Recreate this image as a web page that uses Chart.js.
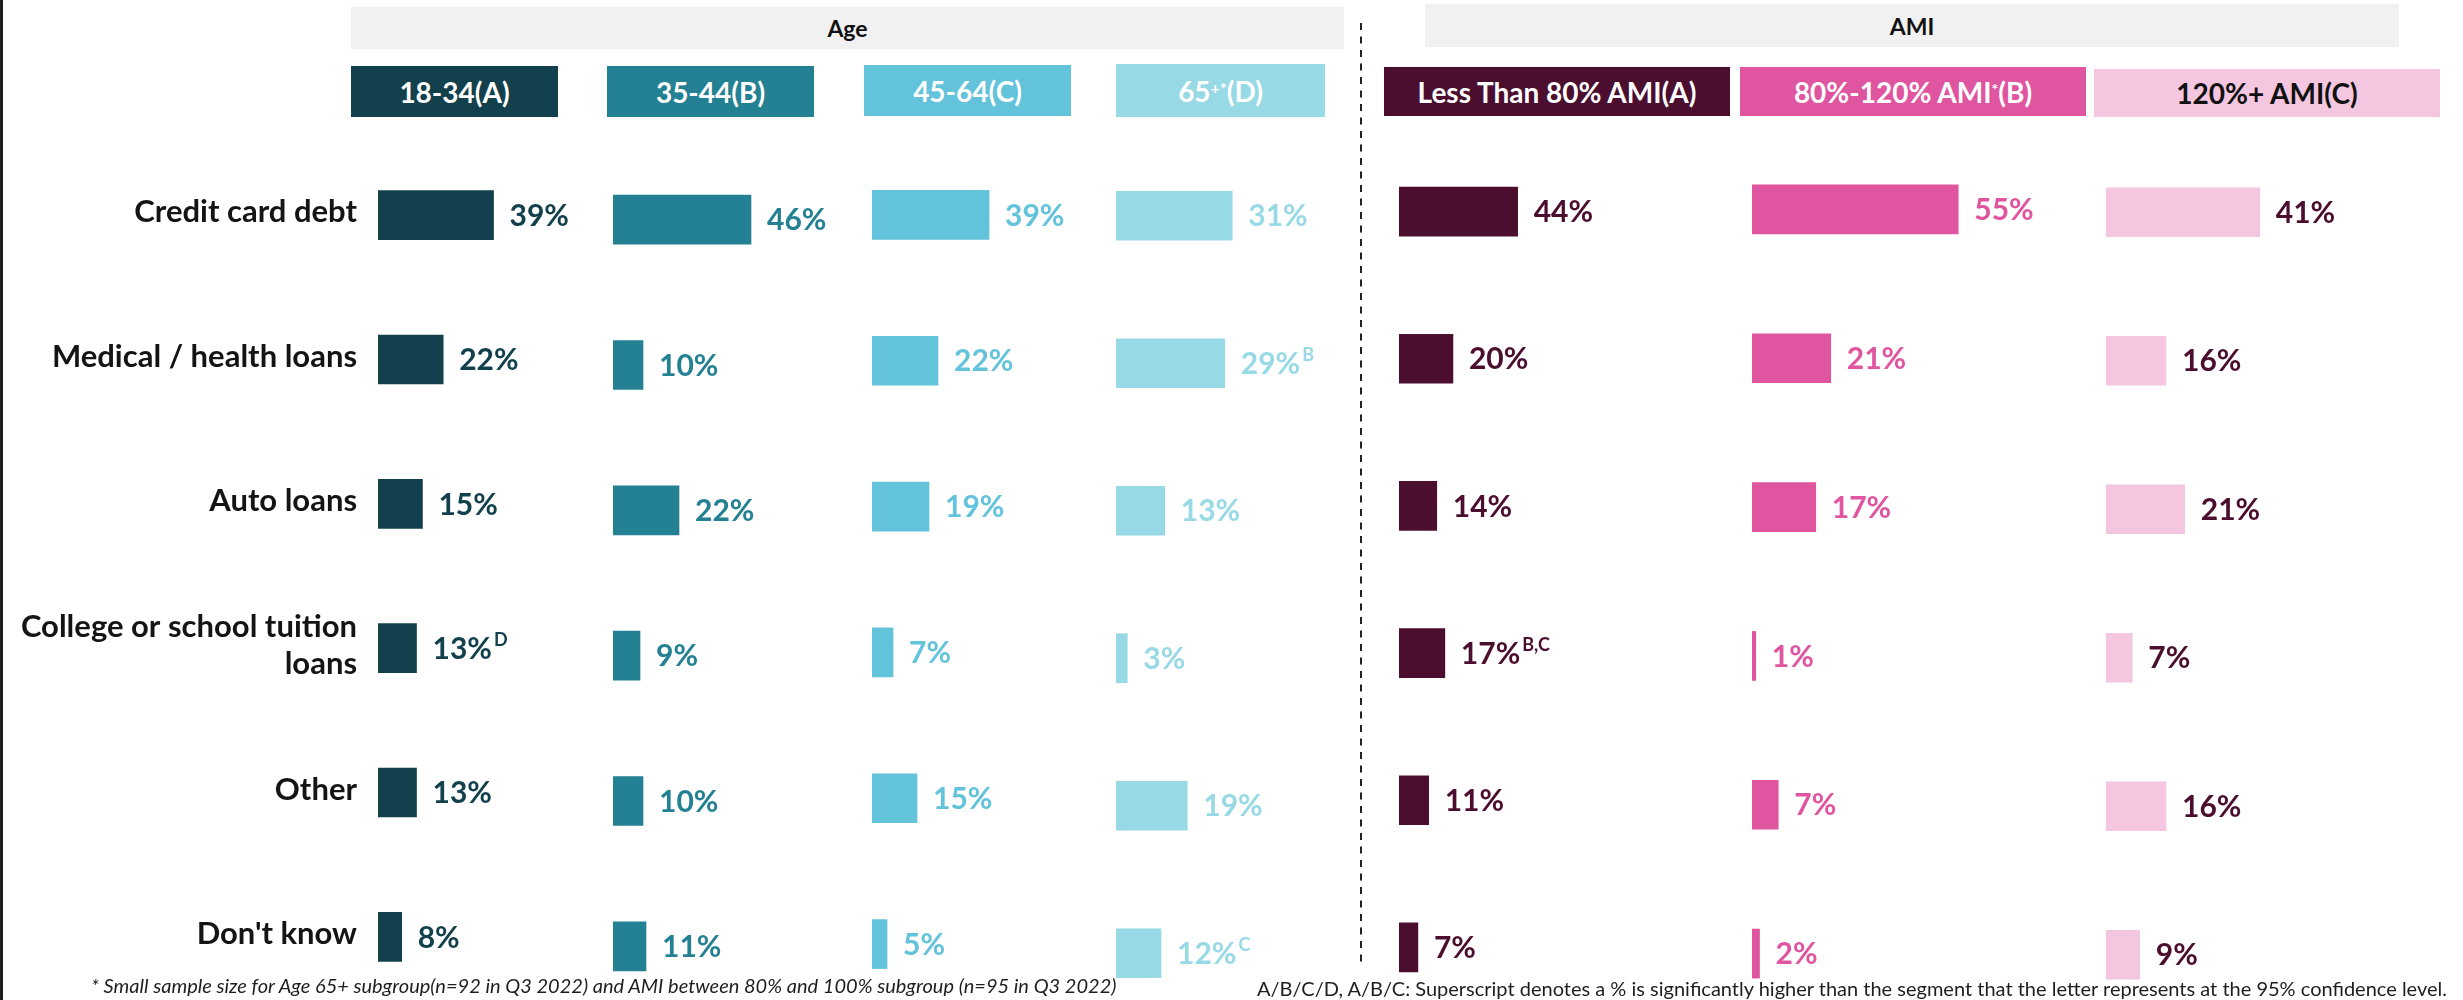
<!DOCTYPE html>
<html>
<head>
<meta charset="utf-8">
<script src="https://cdn.jsdelivr.net/npm/chart.js@4.4.1/dist/chart.umd.min.js"></script>
<style>
  html, body { margin: 0; padding: 0; background: #fff; }
  body { width: 2463px; height: 1000px; position: relative; overflow: hidden; font-family: Lato, "Open Sans", sans-serif; }
  .edge { position: absolute; left: 0; top: 0; width: 3px; height: 1000px; background: #1b1b1b; }
  .group { position: absolute; background: #f1f1f1; color: #111; font-weight: 700; font-size: 23px;
           display: flex; align-items: center; justify-content: center; }
  .head { position: absolute; display: flex; align-items: center; justify-content: center;
          font-weight: 700; font-size: 28px; color: #fff; white-space: nowrap; }
  .head sup { font-size: 16px; line-height: 0; position: relative; top: -3px; }
  canvas { position: absolute; }
  .note { position: absolute; font-size: 20px; color: #1e1e1e; white-space: nowrap; }
  .divider { position: absolute; left: 1359px; top: 23px; }
</style>
</head>
<body>
<div class="edge"></div>

<div class="group" style="left:351px;top:7px;width:993px;height:42px;">Age</div>
<div class="group" style="left:1425px;top:4px;width:974px;height:43px;">AMI</div>

<div class="head" style="left:351px;top:66px;width:207px;height:51px;background:#12404c;">18-34(A)</div>
<div class="head" style="left:607px;top:66px;width:207px;height:51px;background:#238193;">35-44(B)</div>
<div class="head" style="left:864px;top:65px;width:207px;height:51px;background:#62c3db;">45-64(C)</div>
<div class="head" style="left:1116px;top:64px;width:209px;height:53px;background:#98d9e6;">65<sup>+*</sup>(D)</div>
<div class="head" style="left:1384px;top:67px;width:346px;height:49px;background:#4b0e2f;">Less Than 80% AMI(A)</div>
<div class="head" style="left:1740px;top:67px;width:346px;height:49px;background:#e055a0;">80%-120% AMI<sup>*</sup>(B)</div>
<div class="head" style="left:2094px;top:69px;width:346px;height:48px;background:#f4c6e0;color:#111;">120%+ AMI(C)</div>

<svg class="divider" width="4" height="940">
  <line x1="2" y1="0" x2="2" y2="940" stroke="#222" stroke-width="2" stroke-dasharray="7 6.5"/>
</svg>

<canvas id="ageA" width="718" height="866"></canvas>
<canvas id="ageB" width="340" height="872"></canvas>
<canvas id="ageC" width="340" height="875"></canvas>
<canvas id="ageD" width="340" height="885"></canvas>
<canvas id="amiA" width="340" height="883"></canvas>
<canvas id="amiB" width="340" height="893"></canvas>
<canvas id="amiC" width="340" height="891"></canvas>

<div class="note" style="left:91px;top:973px;font-style:italic;">* Small sample size for Age 65+ subgroup(n=92 in Q3 2022) and AMI between 80% and 100% subgroup (n=95 in Q3 2022)</div>
<div class="note" style="left:1257px;top:976px;">A/B/C/D, A/B/C: Superscript denotes a % is significantly higher than the segment that the letter represents at the 95% confidence level.</div>

<script>
const categories = [
  'Credit card debt',
  'Medical / health loans',
  'Auto loans',
  ['College or school tuition', 'loans'],
  'Other',
  "Don't know"
];

// share of respondents holding each debt type (%)
const age18to34 = [39, 22, 15, 13, 13, 8];
const age35to44 = [46, 10, 22, 9, 10, 11];
const age45to64 = [39, 22, 19, 7, 15, 5];
const age65plus = [31, 29, 13, 3, 19, 12];
const amiUnder80 = [44, 20, 14, 17, 11, 7];
const ami80to120 = [55, 21, 17, 1, 7, 2];
const ami120plus = [41, 16, 21, 7, 16, 9];

// significance letters printed after the value
const sig18to34 = ['', '', '', 'D', '', ''];
const sig65plus = ['', 'B', '', '', '', 'C'];
const sigUnder80 = ['', '', '', 'B,C', '', ''];
const noSig = ['', '', '', '', '', ''];

Chart.defaults.font.family = 'Lato';
Chart.defaults.animation = false;

// value + superscript next to each bar
const valueLabels = {
  id: 'valueLabels',
  afterDatasetsDraw(chart, args, opts) {
    const ctx = chart.ctx;
    const values = chart.data.datasets[0].data;
    ctx.save();
    ctx.fillStyle = opts.color;
    ctx.textBaseline = 'middle';
    chart.getDatasetMeta(0).data.forEach((bar, i) => {
      const text = values[i] + '%';
      const x = bar.x + 16;
      const y = bar.y + 1;
      ctx.font = 'bold 30px Lato';
      ctx.fillText(text, x, y);
      const sup = opts.sig[i];
      if (sup) {
        const w = ctx.measureText(text).width;
        ctx.font = 'bold 18px Lato';
        ctx.fillText(sup, x + w + 2, y - 9);
      }
    });
    ctx.restore();
  }
};

// category names, right-aligned left of the first panel
const rowLabels = {
  id: 'rowLabels',
  afterDraw(chart, args, opts) {
    if (!opts.show) return;
    const ctx = chart.ctx;
    const y = chart.scales.y;
    const lineH = 37;
    ctx.save();
    ctx.fillStyle = '#141414';
    ctx.font = 'bold 31px Lato';
    ctx.textAlign = 'right';
    ctx.textBaseline = 'middle';
    chart.data.labels.forEach((lab, i) => {
      const lines = Array.isArray(lab) ? lab : [lab];
      const cy = y.getPixelForValue(i) - 3;
      lines.forEach((t, k) => {
        ctx.fillText(t, chart.chartArea.left - 21, cy + (k - (lines.length - 1) / 2) * lineH);
      });
    });
    ctx.restore();
  }
};

const panels = [
  { id: 'ageA', data: age18to34, sig: sig18to34, color: '#12404c', label: '#12404c', left: 378, first: 215, step: 144.2, max: 81, axis: true },
  { id: 'ageB', data: age35to44, sig: noSig, color: '#238193', label: '#238193', left: 613, first: 220, step: 145.2, max: 80 },
  { id: 'ageC', data: age45to64, sig: noSig, color: '#62c3db', label: '#62c3db', left: 872, first: 214.5, step: 145.8, max: 80 },
  { id: 'ageD', data: age65plus, sig: sig65plus, color: '#98d9e6', label: '#98d9e6', left: 1116, first: 215.5, step: 147.4, max: 64 },
  { id: 'amiA', data: amiUnder80, sig: sigUnder80, color: '#4b0e2f', label: '#4b0e2f', left: 1399, first: 211.5, step: 147.1, max: 89 },
  { id: 'amiB', data: ami80to120, sig: noSig, color: '#e055a0', label: '#e055a0', left: 1752, first: 209, step: 148.8, max: 64 },
  { id: 'amiC', data: ami120plus, sig: noSig, color: '#f4c6e0', label: '#4b0e2f', left: 2106, first: 212.5, step: 148.4, max: 64 }
];

panels.forEach(p => {
  const canvas = document.getElementById(p.id);
  canvas.style.top = (p.first - p.step / 2) + 'px';
  canvas.style.left = (p.axis ? 0 : p.left) + 'px';

  new Chart(canvas, {
    type: 'bar',
    data: {
      labels: categories,
      datasets: [{
        data: p.data,
        backgroundColor: p.color,
        borderWidth: 0,
        barThickness: 49
      }]
    },
    options: {
      indexAxis: 'y',
      responsive: false,
      maintainAspectRatio: false,
      layout: { padding: { left: p.axis ? p.left : 0, right: 100, top: 0, bottom: 0 } },
      plugins: {
        legend: { display: false },
        tooltip: { enabled: false },
        valueLabels: { color: p.label, sig: p.sig },
        rowLabels: { show: !!p.axis }
      },
      scales: {
        x: { display: false, min: 0, max: p.max },
        y: { display: false }
      }
    },
    plugins: [valueLabels, rowLabels]
  });
});
</script>
</body>
</html>
